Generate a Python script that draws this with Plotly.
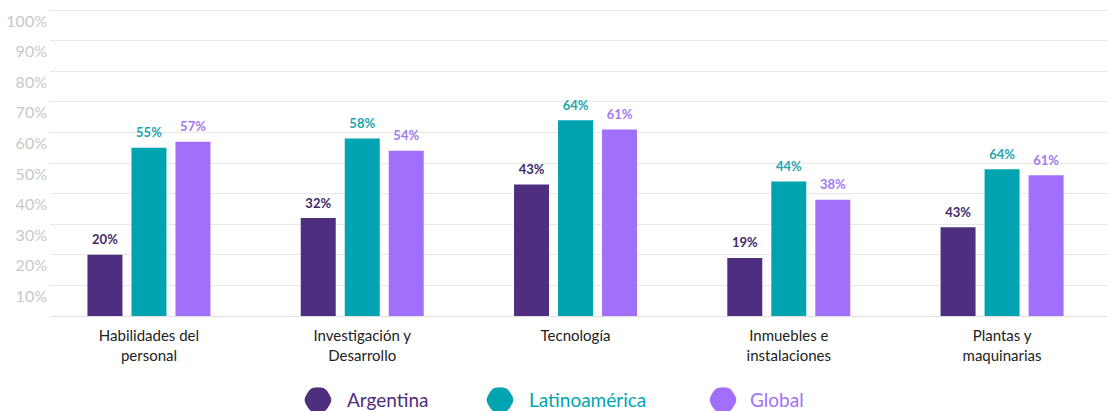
import plotly.graph_objects as go

categories = ["Habilidades del<br>personal", "Investigación y<br>Desarrollo", "Tecnología",
              "Inmuebles e<br>instalaciones", "Plantas y<br>maquinarias"]
series_names = ["Argentina", "Latinoamérica", "Global"]

# bar heights as drawn
argentina = [20, 32, 43, 19, 29]
latam = [55, 58, 64, 44, 48]
global_ = [57, 54, 61, 38, 46]

# printed labels (last group labels differ from drawn heights in the source)
argentina_lbl = ["20%", "32%", "43%", "19%", "43%"]
latam_lbl = ["55%", "58%", "64%", "44%", "64%"]
global_lbl = ["57%", "54%", "61%", "38%", "61%"]

bar_colors = ["#4f2e7f", "#00a4b1", "#a070fb"]
label_colors = ["#3f2a66", "#1ea5ad", "#a27af0"]

x_idx = list(range(len(categories)))
FONT = "Lato, 'Open Sans', sans-serif"
BARGAP = 0.381
slot = (1 - BARGAP) / 3

# custom legend (paper coords): marker centres and text starts
LEG_MARK_X = [0.2535, 0.4257, 0.6367]
LEG_TEXT_X = [0.2791, 0.4513, 0.6604]
LEG_Y = -0.269


def rounded_hex(w=14, h=12, r=0.3):
    # hexagon with points left/right, corners softened with quadratic curves
    pts = [(-w, 0), (-w / 2, h), (w / 2, h), (w, 0), (w / 2, -h), (-w / 2, -h)]
    n = len(pts)
    path = ""
    for i in range(n):
        px, py = pts[i - 1]
        cx, cy = pts[i]
        nx, ny = pts[(i + 1) % n]
        ax, ay = cx + (px - cx) * r, cy + (py - cy) * r
        bx, by = cx + (nx - cx) * r, cy + (ny - cy) * r
        path += ("M" if i == 0 else "L") + f"{ax:.2f},{ay:.2f} Q{cx:.2f},{cy:.2f} {bx:.2f},{by:.2f} "
    return path + "Z"


HEX = rounded_hex()

fig = go.Figure()
for k, (name, vals, lbls, col, lcol) in enumerate(zip(series_names, [argentina, latam, global_],
                                                      [argentina_lbl, latam_lbl, global_lbl],
                                                      bar_colors, label_colors)):
    fig.add_trace(go.Bar(
        x=x_idx, y=vals,
        marker=dict(color=col, line=dict(width=0)),
        name=name, showlegend=False, hoverinfo="skip"))
    # value labels above the bars
    fig.add_trace(go.Scatter(
        x=[i + (k - 1) * slot for i in x_idx], y=vals, text=lbls,
        mode="markers+text", textposition="top center", cliponaxis=False,
        marker=dict(size=10, opacity=0),
        textfont=dict(color=lcol, size=13, family=FONT, weight="bold"),
        showlegend=False, hoverinfo="skip"))

    fig.add_shape(type="path", path=HEX, xref="paper", yref="paper",
                  xsizemode="pixel", ysizemode="pixel",
                  xanchor=LEG_MARK_X[k], yanchor=LEG_Y,
                  fillcolor=col, line=dict(color=col, width=1))
    fig.add_annotation(x=LEG_TEXT_X[k], y=LEG_Y, xref="paper", yref="paper",
                       text=name, showarrow=False, xanchor="left", yanchor="middle",
                       font=dict(color=col, size=19, family=FONT))

fig.update_layout(
    width=1107, height=411,
    margin=dict(l=50, r=0, t=4, b=95),
    plot_bgcolor="white", paper_bgcolor="white",
    barmode="group", bargap=BARGAP, bargroupgap=0.205,
    font=dict(family=FONT),
    showlegend=False,
    xaxis=dict(
        tickmode="array", tickvals=x_idx, ticktext=categories,
        range=[-0.464, 4.492], showgrid=False, zeroline=False, showline=False,
        tickfont=dict(size=15, color="#222222", family=FONT),
        ticks="", ticklabelstandoff=9),
    yaxis=dict(
        range=[0, 102], tickvals=[10, 20, 30, 40, 50, 60, 70, 80, 90, 100],
        ticktext=[f"{v}%" for v in range(10, 101, 10)],
        showgrid=True, gridcolor="#e8e8e8", gridwidth=1,
        zeroline=True, zerolinecolor="#e0e0e0", zerolinewidth=1,
        tickfont=dict(size=16, color="#c8c8c8", family=FONT),
        ticks="", ticklabelstandoff=2, ticklabelshift=11, showline=False),
)

fig.write_html("out.html", config={"displayModeBar": False},
               post_script="document.body.style.margin='0';")
